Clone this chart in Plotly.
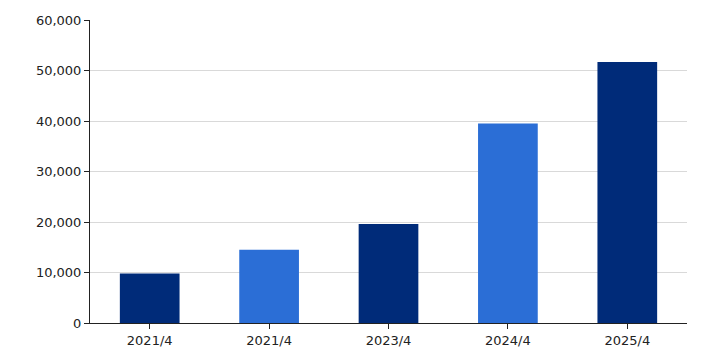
import plotly.graph_objects as go

categories = ["2021/4", "2021/4", "2023/4", "2024/4", "2025/4"]
values = [9800, 14500, 19600, 39500, 51700]
colors = ["#002b79", "#2b6ed6", "#002b79", "#2b6ed6", "#002b79"]
y_ticks = [0, 10000, 20000, 30000, 40000, 50000, 60000]

positions = list(range(len(categories)))

fig = go.Figure(go.Bar(
    x=positions, y=values, width=0.5,
    marker=dict(color=colors, line=dict(width=0)),
))
fig.update_layout(
    width=706, height=353,
    margin=dict(l=90, r=19, t=20, b=30, autoexpand=False),
    plot_bgcolor="white", paper_bgcolor="white",
    font=dict(family="DejaVu Sans, Verdana, sans-serif", size=13, color="#222"),
    showlegend=False,
    bargap=0.5,
)
fig.update_xaxes(
    tickmode="array", tickvals=positions, ticktext=categories,
    range=[-0.5, len(categories) - 0.5],
    showline=True, linecolor="#222", linewidth=1,
    ticks="outside", ticklen=5, tickcolor="#222",
    showgrid=False, zeroline=False, automargin=False,
)
fig.update_yaxes(
    tickmode="array", tickvals=y_ticks,
    ticktext=[f"{v:,}" for v in y_ticks],
    range=[0, 60000],
    showline=True, linecolor="#222", linewidth=1,
    ticks="outside", ticklen=5, tickcolor="#222",
    showgrid=True, gridcolor="#d9d9d9", gridwidth=1,
    zeroline=False, automargin=False,
)
fig.write_html("out.html")
